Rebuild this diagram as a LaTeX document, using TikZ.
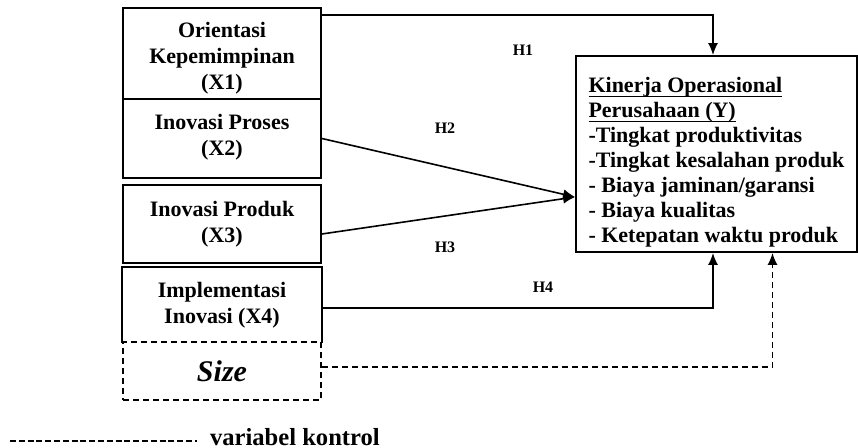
\documentclass[tikz,border=0pt]{standalone}
\usepackage{fontspec}
\setmainfont{Liberation Serif}
\usepackage{tikz}
\usetikzlibrary{arrows.meta}
\newcommand{\uline}[1]{\underline{\smash{#1}\rule[-0.6pt]{0pt}{0pt}}}

\begin{document}
\begin{tikzpicture}[x=0.5pt, y=-0.5pt,
  varbox/.style={draw, line width=0.9pt, inner sep=0pt, minimum width=99pt, align=center,
    font=\fontsize{11}{13}\selectfont\bfseries},
  hlabel/.style={font=\fontsize{8}{9}\selectfont\bfseries},
  link/.style={line width=0.8pt, -{Latex[length=6pt,width=5pt]}},
  ctrl/.style={line width=0.8pt, dash pattern=on 3pt off 2pt}]
 \useasboundingbox (0,0) rectangle (858,448);
 \node [varbox, minimum height=45.5pt] (x1) at (222,53.5) {\rule{0pt}{12.6pt}Orientasi\\Kepemimpinan\\(X1)};
 \node [varbox, minimum height=39.5pt] (x2) at (222,138.5) {Inovasi Proses\\(X2)\rule[-4pt]{0pt}{0pt}};
 \node [varbox, minimum height=39pt] (x3) at (222,224) {Inovasi Produk\\(X3)};
 \node [varbox, draw=none, minimum height=37pt] (x4) at (222,305) {Implementasi\\Inovasi (X4)};
 \draw [line width=0.9pt] (x4.south west) |- (x4.north east) -- (x4.south east);
 \node [varbox, ctrl, line width=0.9pt, minimum height=29pt, font=\fontsize{15}{17}\selectfont\bfseries\itshape] (size) at (222,371) {Size};
 \node [varbox, minimum width=140.5pt, minimum height=98pt, align=left, font=\fontsize{11}{12.5}\selectfont\bfseries] (kinerja) at (716.5,154)
   {\rule{0pt}{16pt}\uline{Kinerja Operasional}\\\uline{Perusahaan (Y)}\\-Tingkat produktivitas\\-Tingkat kesalahan produk\\- Biaya jaminan/garansi\\- Biaya kualitas\\- Ketepatan waktu produk};
 \coordinate (hub) at ([yshift=-21.5pt]kinerja.west);
 \draw [link] ([yshift=-4pt]x1.north east) -| ([xshift=-1.75pt]kinerja.north);
 \draw [link] (x2.east) -- (hub);
 \draw [link] ([yshift=-5pt]x3.east) -- (hub);
 \draw [link] ([yshift=-1.5pt]x4.east) -| ([xshift=-1.75pt]kinerja.south);
 \draw [ctrl, -{Latex[length=6pt,width=5pt]}] ([yshift=2pt]size.east) -| ([xshift=28pt]kinerja.south);
 \node [hlabel] (h1) at (523,50) {H1};
 \node [hlabel] (h2) at (445,128) {H2};
 \node [hlabel] (h3) at (445,247) {H3};
 \node [hlabel] (h4) at (543,287) {H4};
 \node [anchor=west, font=\fontsize{12.3}{14}\selectfont\bfseries] (legend) at (203,437) {variabel kontrol};
 \coordinate (dashstart) at (10,441);
 \draw [line width=1.2pt, dash pattern=on 3pt off 1.4pt] (dashstart) -- ([xshift=-3pt]legend.west |- dashstart);
\end{tikzpicture}
\end{document}
